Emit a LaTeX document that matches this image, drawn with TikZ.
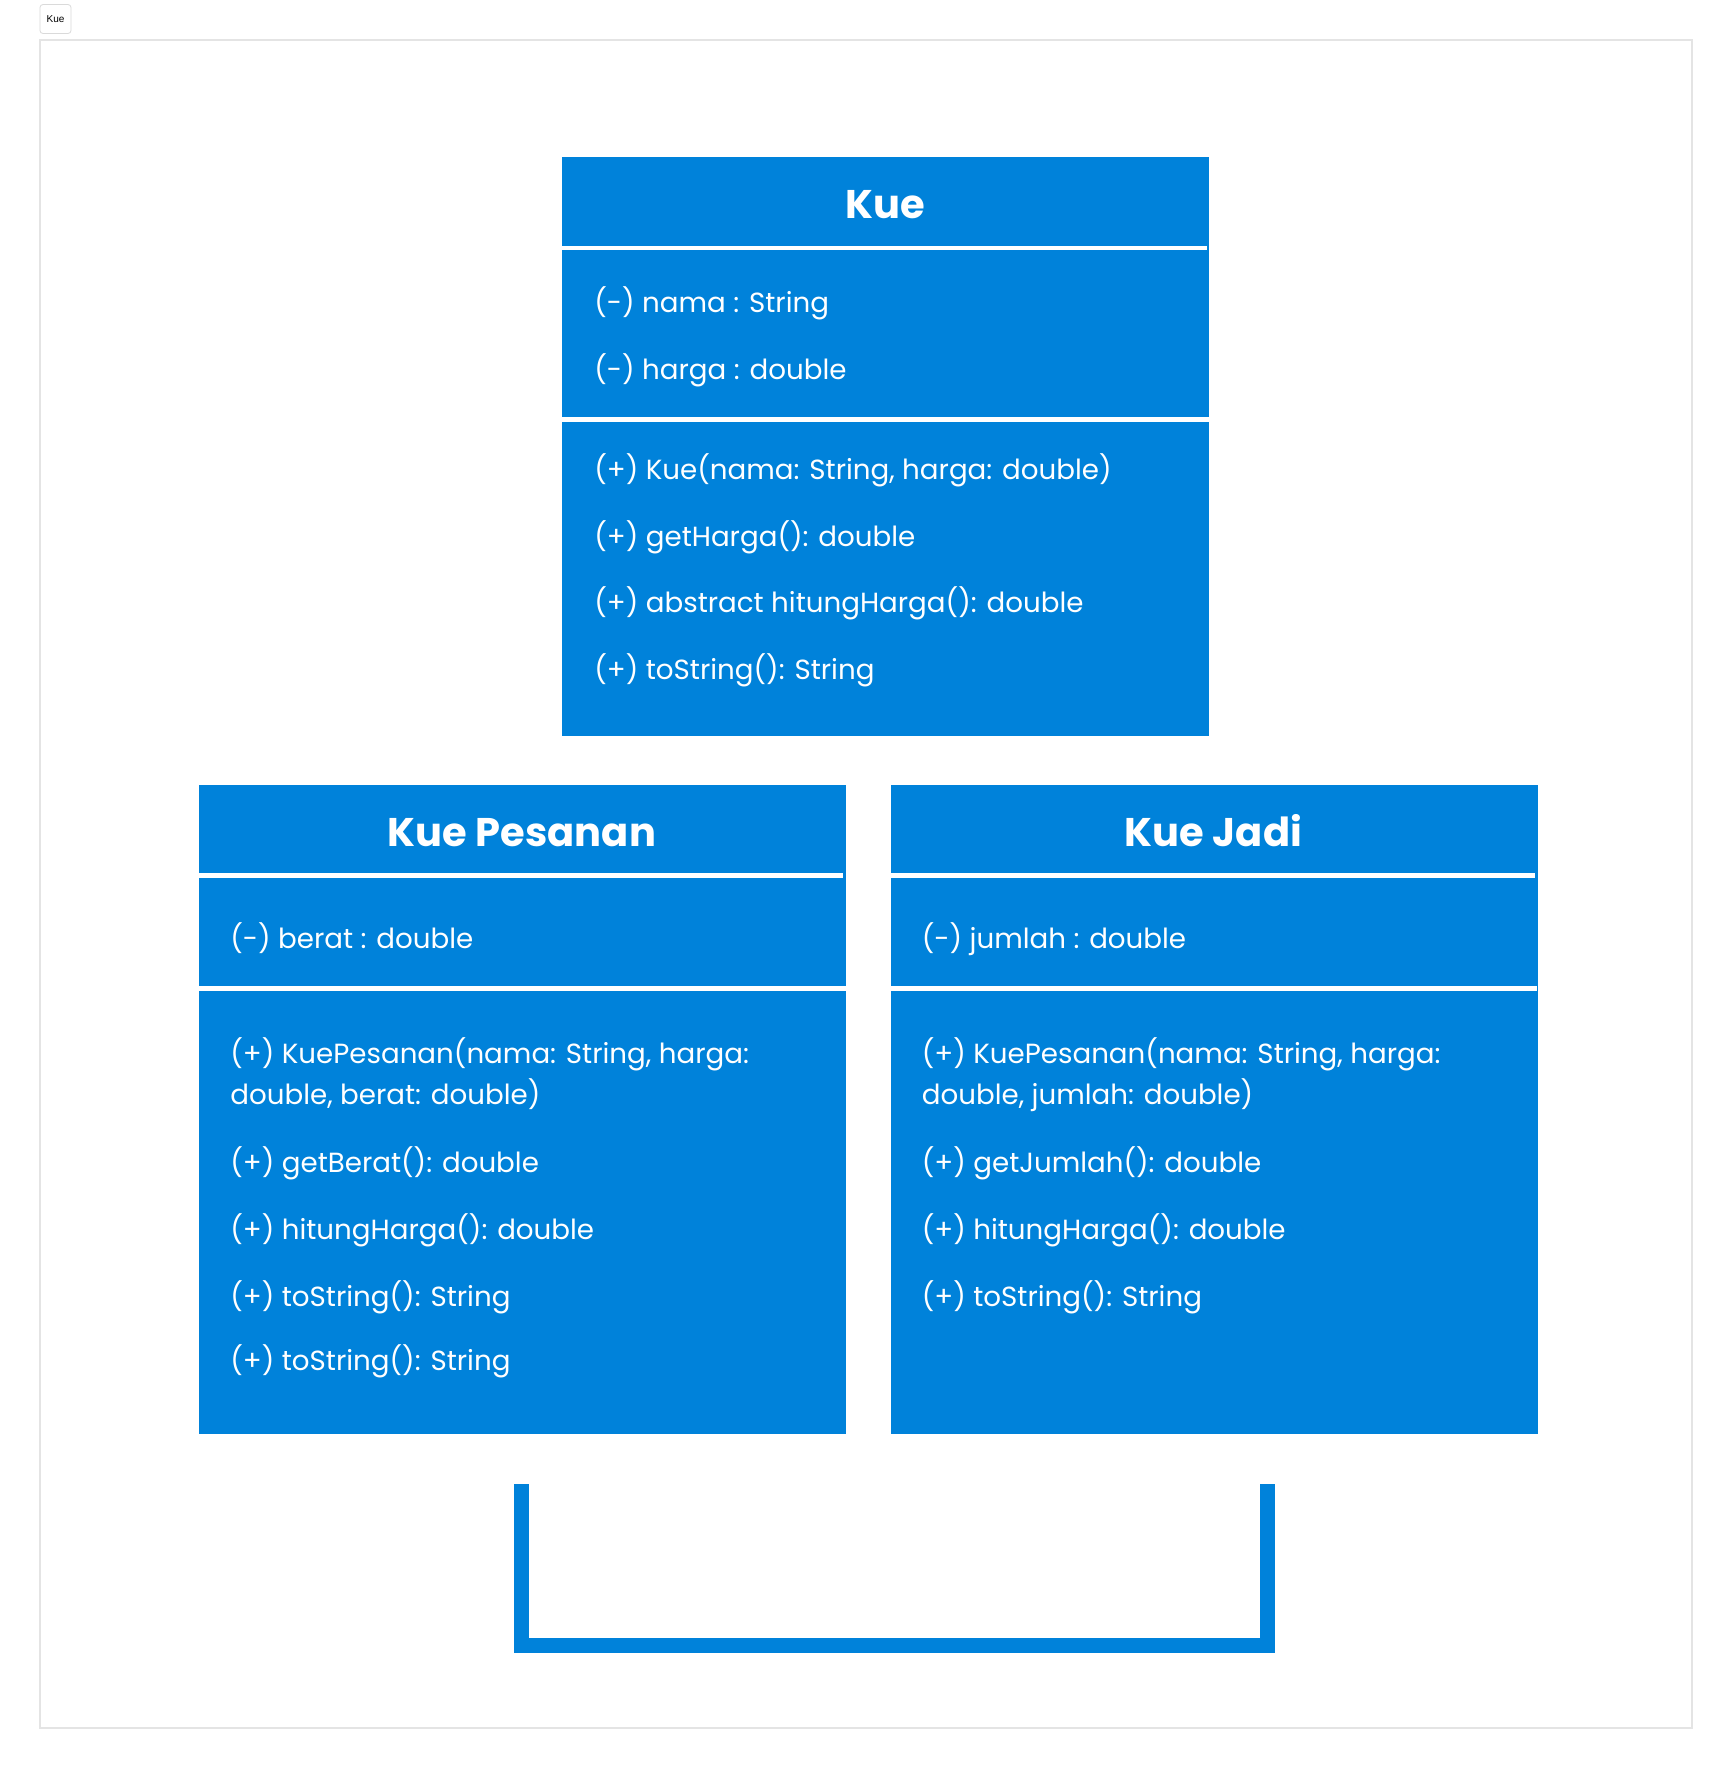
\documentclass[tikz,border=0pt]{standalone}
\usepackage{fontspec}
\setmainfont{Poppins}
\newfontfamily\tabfont{Liberation Sans}
\usepackage{xcolor}
\usepackage{tikz}
\usetikzlibrary{positioning}
\definecolor{kueblue}{RGB}{0,130,218}
\definecolor{framegray}{RGB}{228,228,228}
\definecolor{tabgray}{RGB}{218,218,218}
\tikzstyle{classbox} = [rectangle, fill=kueblue, inner sep=0pt,
    minimum width=323.5pt, anchor=north west]
\tikzstyle{title} = [text=white, inner sep=0pt, anchor=base,
    font=\fontsize{20}{24}\selectfont\bfseries]
\tikzstyle{member} = [text=white, inner sep=0pt, anchor=base west, align=left,
    font=\fontsize{13.85}{20.2}\selectfont]
\tikzstyle{divider} = [white, line width=2.4pt]

\begin{document}
\begin{tikzpicture}[x=0.5pt, y=-0.5pt]

    \useasboundingbox[fill=white] (0,0) rectangle (1733,1769);
    \draw[framegray, line width=0.8pt] (40,40) rectangle (1692,1728);
    \node [draw=tabgray, rounded corners=1.5pt, minimum width=15.5pt, minimum height=14.5pt,
        inner sep=0pt, font=\tabfont\fontsize{5}{6}\selectfont] (KueTab) at (55.5,19) {Kue};

    % Place nodes
	\node [classbox, minimum height=289.5pt] (Kue) at (562,157) {};
	\node [classbox, minimum height=324.5pt] (KuePesanan) at (198.5,785) {};
	\node [classbox, minimum height=324.5pt, right=22pt of KuePesanan] (KueJadi) {};

	% Kue
	\node [title] (KueTitle) at (885.5,218) {Kue};
	\draw [divider] (562,248) -- (1207,248);
	\node [member] (KueNama) at (594,312) {(-) nama : String};
	\node [member] (KueHarga) at (594,379) {(-) harga : double};
	\draw [divider] (562,419.5) -- (1209,419.5);
	\node [member] (KueKonstruktor) at (594,479) {(+) Kue(nama: String, harga: double)};
	\node [member] (KueGetHarga) at (594,546) {(+) getHarga(): double};
	\node [member] (KueHitung) at (594,612) {(+) abstract hitungHarga(): double};
	\node [member] (KueToString) at (594,679) {(+) toString(): String};

	% Kue Pesanan
	\node [title] (PesananTitle) at (522,846) {Kue Pesanan};
	\draw [divider] (198.5,875.5) -- (843,875.5);
	\node [member] (PesananBerat) at (230,948) {(-) berat : double};
	\draw [divider] (198.5,988.5) -- (845.5,988.5);
	\node [member] (PesananKonstruktor) at (230,1104) {(+) KuePesanan(nama: String, harga:\\double, berat: double)};
	\node [member] (PesananGetBerat) at (230,1172) {(+) getBerat(): double};
	\node [member] (PesananHitung) at (230,1239) {(+) hitungHarga(): double};
	\node [member] (PesananToString) at (230,1306) {(+) toString(): String};
	\node [member] (PesananToStringDua) at (230,1370) {(+) toString(): String};

	% Kue Jadi
	\node [title] (JadiTitle) at (1213.5,846) {Kue Jadi};
	\draw [divider] (890,875.5) -- (1534.5,875.5);
	\node [member] (JadiJumlah) at (921.5,948) {(-) jumlah : double};
	\draw [divider] (890,988.5) -- (1537,988.5);
	\node [member] (JadiKonstruktor) at (921.5,1104) {(+) KuePesanan(nama: String, harga:\\double, jumlah: double)};
	\node [member] (JadiGetJumlah) at (921.5,1172) {(+) getJumlah(): double};
	\node [member] (JadiHitung) at (921.5,1239) {(+) hitungHarga(): double};
	\node [member] (JadiToString) at (921.5,1306) {(+) toString(): String};

	% bracket
	\coordinate (BracketLeft) at (521.5,1484);
	\coordinate (BracketRight) at (1267.5,1484);
	\draw [kueblue, line width=7.5pt, line join=miter] (BracketLeft) -- (521.5,1645.5) -- (1267.5,1645.5) -- (BracketRight);

\end{tikzpicture}
\end{document}
